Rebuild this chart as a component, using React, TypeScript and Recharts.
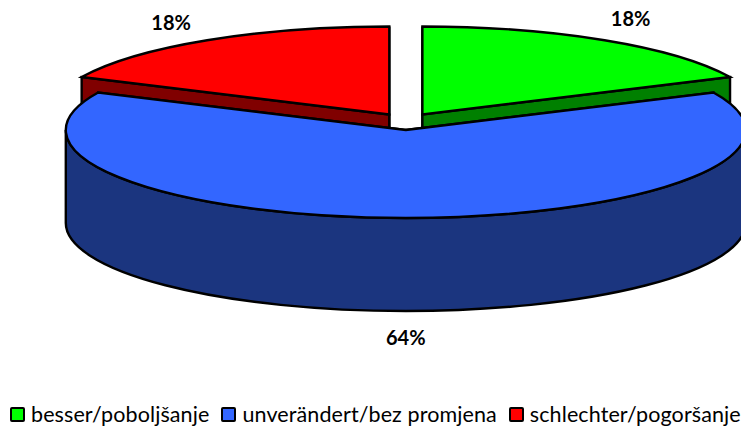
import React from "react";
import { PieChart, Pie, Legend } from "recharts";

const categories = ["besser/poboljšanje", "unverändert/bez promjena", "schlechter/pogoršanje"];
const shares = [18, 64, 18];
const topColors = ["#00FF00", "#3366FF", "#FF0000"];
const wallColors = ["#008000", "#1B357F", "#800000"];

// Back slices are painted first so the large front slice covers their walls.
const paintOrder = [2, 0, 1];
const explode: Record<string, [number, number]> = {
  [categories[0]]: [16.6, -15.5],
  [categories[1]]: [0, 0],
  [categories[2]]: [-16.5, -15.5],
};
const labelNudge: Record<string, [number, number]> = {
  [categories[0]]: [26, -22],
  [categories[1]]: [0, 26],
  [categories[2]]: [-36, -18],
};

const data = paintOrder.map((i) => ({
  name: categories[i],
  value: shares[i],
  fill: topColors[i],
  wall: wallColors[i],
}));

const TILT = 88 / 340;
const DEPTH = 93;
const START = 90 + (shares[2] / 100) * 360;
const rad = (d: number) => (d * Math.PI) / 180;

function Slice3D(props: any) {
  const { cx, cy, outerRadius, startAngle, endAngle, payload, name } = props;
  const key = payload?.name ?? name;
  const wall = payload?.wall ?? props.wall;
  const fill = payload?.fill ?? props.fill;
  const [dx, dy] = explode[key];
  const rx = outerRadius;
  const ry = outerRadius * TILT;
  const ox = cx + dx;
  const oy = cy + dy;
  const pt = (a: number) => [ox + rx * Math.cos(rad(a)), oy - ry * Math.sin(rad(a))];
  const [sx, sy] = pt(startAngle);
  const [ex, ey] = pt(endAngle);
  const large = Math.abs(startAngle - endAngle) > 180 ? 1 : 0;
  const top = `M${ox},${oy}L${sx},${sy}A${rx},${ry} 0 ${large} 1 ${ex},${ey}Z`;
  const face = (x: number, y: number) =>
    `M${ox},${oy}L${x},${y}L${x},${y + DEPTH}L${ox},${oy + DEPTH}Z`;
  const rims: string[] = [];
  for (const s of [-360, 0, 360]) {
    const a0 = Math.min(startAngle, s);
    const a1 = Math.max(endAngle, s - 180);
    if (a0 > a1) {
      const [x0, y0] = pt(a0);
      const [x1, y1] = pt(a1);
      rims.push(
        `M${x0},${y0}A${rx},${ry} 0 0 1 ${x1},${y1}L${x1},${y1 + DEPTH}A${rx},${ry} 0 0 0 ${x0},${y0 + DEPTH}Z`
      );
    }
  }
  const line = { stroke: "#000", strokeWidth: 2.4, strokeLinejoin: "miter" as const };
  return (
    <g>
      <path d={face(sx, sy)} fill={wall} {...line} />
      <path d={face(ex, ey)} fill={wall} {...line} />
      {rims.map((d) => (
        <path key={d} d={d} fill={wall} {...line} />
      ))}
      <path d={top} fill={fill} {...line} />
    </g>
  );
}

function SliceLabel(props: any) {
  const { cx, cy, outerRadius, midAngle, percent, name, payload } = props;
  const key = payload?.name ?? name;
  const [dx, dy] = explode[key];
  const [nx, ny] = labelNudge[key];
  const down = midAngle < 0 || midAngle > 180 ? DEPTH : 0;
  const x = cx + dx + outerRadius * Math.cos(rad(midAngle)) + nx;
  const y = cy + dy - outerRadius * TILT * Math.sin(rad(midAngle)) + down + ny;
  return (
    <text x={x} y={y} textAnchor="middle" dominantBaseline="central" fontFamily="Lato" fontWeight={700} fontSize={20} fill="#000">
      {Math.round(percent * 100)}%
    </text>
  );
}

function LegendRow() {
  return (
    <div style={{ display: "flex", fontFamily: "Lato", fontSize: 21.5, letterSpacing: 0.1, color: "#000", lineHeight: "22px", whiteSpace: "nowrap" }}>
      {categories.map((c, i) => (
        <div key={c} style={{ display: "flex", alignItems: "center", marginRight: 12 }}>
          <span style={{ width: 11, height: 11, border: "2px solid #000", borderRadius: 2, background: topColors[i], marginRight: 6 }} />
          <span>{c}</span>
        </div>
      ))}
    </div>
  );
}

export default function App() {
  return (
    <div style={{ position: "absolute", left: 0, top: 0, width: 741, height: 430, overflow: "hidden", background: "#fff" }}>
      <PieChart width={741} height={430} margin={{ top: 0, right: 0, bottom: 0, left: 0 }}>
        <Pie
          data={data}
          dataKey="value"
          nameKey="name"
          cx={405.8}
          cy={130}
          outerRadius={340}
          startAngle={START}
          endAngle={START - 360}
          stroke="none"
          isAnimationActive={false}
          shape={Slice3D}
          label={SliceLabel}
          labelLine={false}
        />
        <Legend content={LegendRow} wrapperStyle={{ left: 10, top: 403, width: 731, bottom: "auto" }} />
      </PieChart>
    </div>
  );
}
